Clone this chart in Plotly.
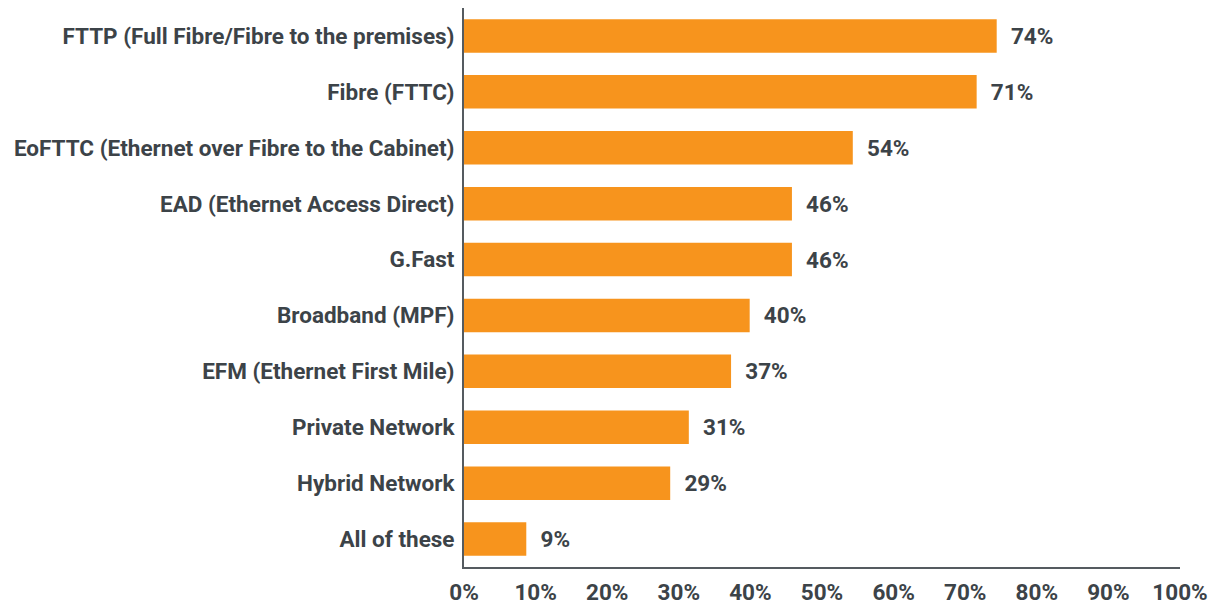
import plotly.graph_objects as go

categories = [
    "FTTP (Full Fibre/Fibre to the premises)",
    "Fibre (FTTC)",
    "EoFTTC (Ethernet over Fibre to the Cabinet)",
    "EAD (Ethernet Access Direct)",
    "G.Fast",
    "Broadband (MPF)",
    "EFM (Ethernet First Mile)",
    "Private Network",
    "Hybrid Network",
    "All of these",
]
# bar lengths (percent)
values = [74.4, 71.6, 54.3, 45.8, 45.8, 39.9, 37.3, 31.4, 28.8, 8.7]
# the rounded labels printed next to the bars
value_labels = ["74%", "71%", "54%", "46%", "46%", "40%", "37%", "31%", "29%", "9%"]
tick_vals = [0, 10, 20, 30, 40, 50, 60, 70, 80, 90, 100]
tick_text = ["0%", "10%", "20%", "30%", "40%", "50%", "60%", "70%", "80%", "90%", "100%"]

TEXT = "#3c4348"
FONT = "Roboto"
SIZE = 22.5

fig = go.Figure(
    go.Bar(
        x=values,
        y=categories,
        orientation="h",
        marker=dict(color="#F7941D", line=dict(width=0)),
        text=value_labels,
        texttemplate="  %{text}",
        textposition="outside",
        textfont=dict(family=FONT, size=SIZE, color=TEXT, weight="bold"),
        cliponaxis=False,
        hoverinfo="skip",
    )
)

# the page body has an 8px default margin, so size the figure to compensate
fig.update_layout(
    width=1216,
    height=597,
    paper_bgcolor="white",
    plot_bgcolor="white",
    margin=dict(l=456, r=44, t=0, b=38, autoexpand=False),
    bargap=0.4,
    showlegend=False,
    font=dict(family=FONT, size=SIZE, color=TEXT, weight="bold"),
    xaxis=dict(
        range=[0, 100],
        tickvals=tick_vals,
        ticktext=tick_text,
        showgrid=False,
        zeroline=False,
        showline=True,
        linecolor="#555b60",
        linewidth=2,
        ticks="",
        automargin=False,
        tickfont=dict(family=FONT, size=SIZE, color=TEXT, weight="bold"),
        ticklabelstandoff=4,
    ),
    yaxis=dict(
        categoryorder="array",
        categoryarray=list(reversed(categories)),
        showgrid=False,
        zeroline=False,
        showline=True,
        linecolor="#555b60",
        linewidth=2,
        ticks="",
        automargin=False,
        tickfont=dict(family=FONT, size=SIZE, color=TEXT, weight="bold"),
        ticklabelstandoff=3,
    ),
)

fig.write_html("out.html")
